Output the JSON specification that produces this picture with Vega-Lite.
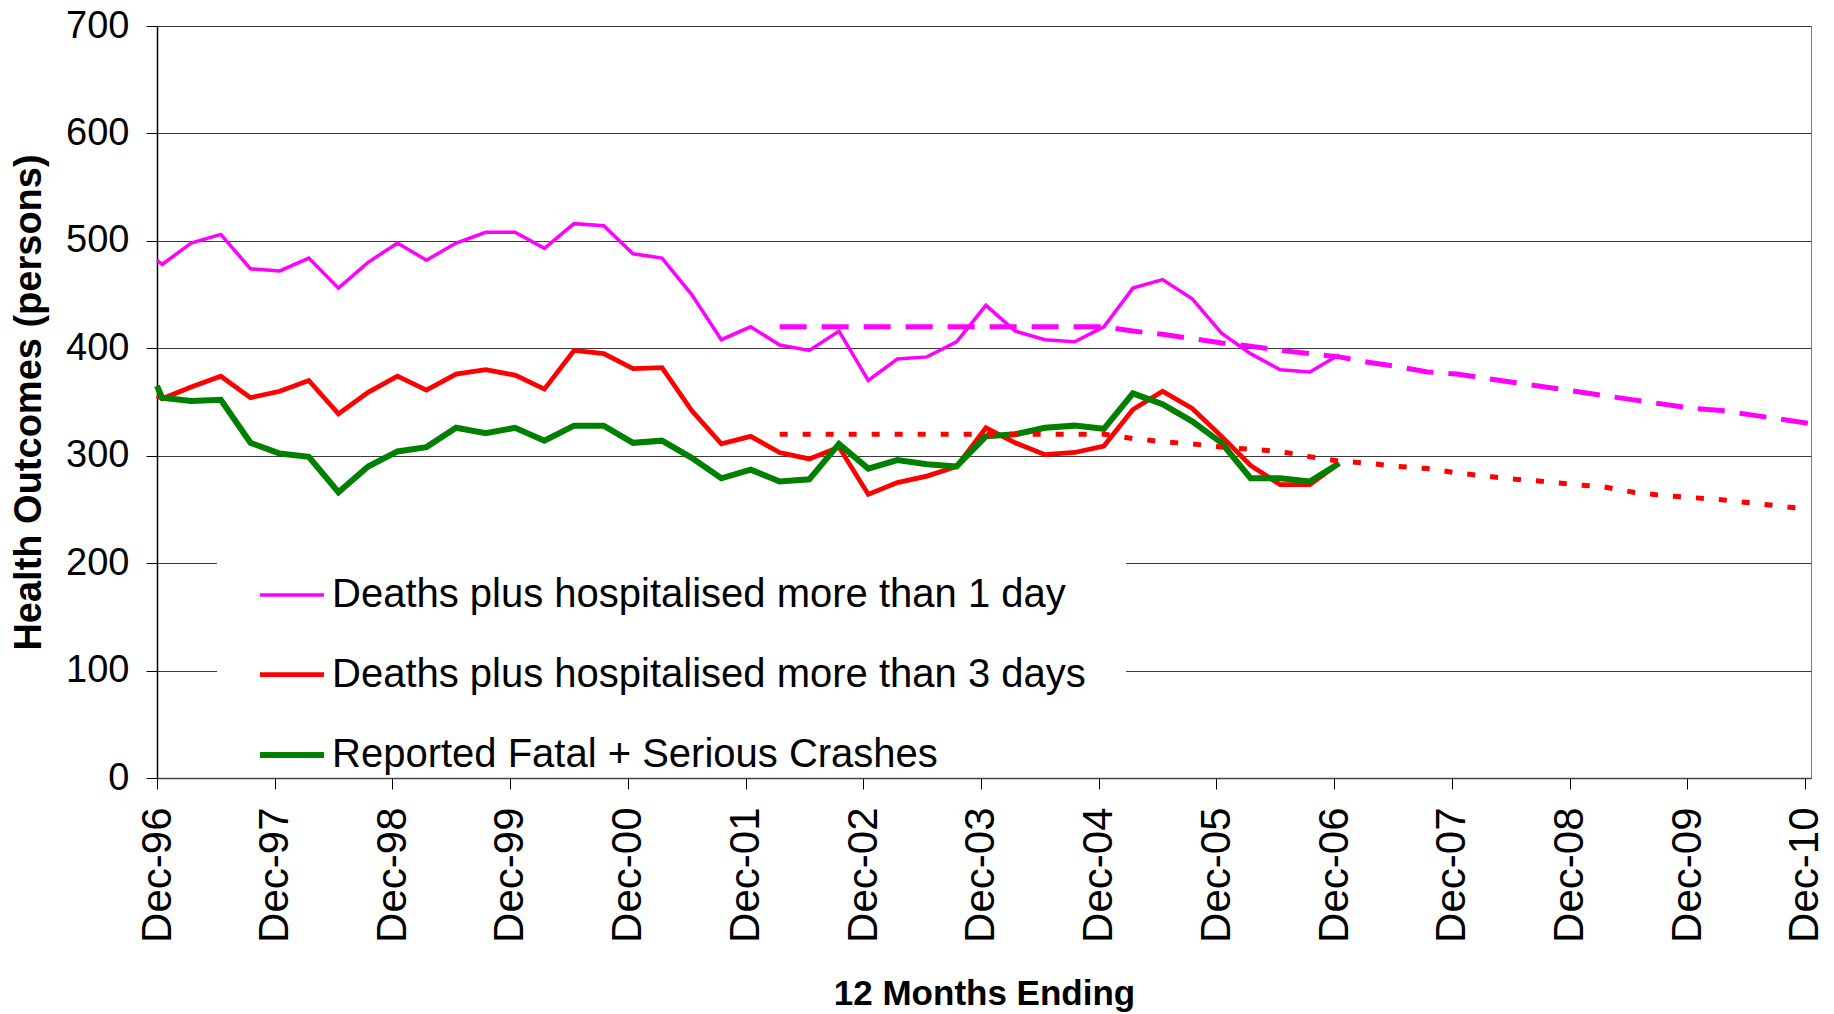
{
  "$schema": "https://vega.github.io/schema/vega-lite/v6.json",
  "autosize": {"type": "none"},
  "width": 1654,
  "height": 752,
  "padding": {"left": 157, "top": 26, "right": 23, "bottom": 236},
  "background": "white",
  "config": {
    "font": "Liberation Sans",
    "view": {"stroke": "#808080", "strokeWidth": 1},
    "axis": {"labelColor": "#000", "titleColor": "#000", "tickColor": "#000", "labelFont": "Liberation Sans", "titleFont": "Liberation Sans"}
  },
  "datasets": {
    "actual": [
      {"date": "1996-12-01", "series": "Deaths plus hospitalised more than 1 day", "value": 482},
      {"date": "1996-12-17", "series": "Deaths plus hospitalised more than 1 day", "value": 478},
      {"date": "1997-03-17", "series": "Deaths plus hospitalised more than 1 day", "value": 498},
      {"date": "1997-06-17", "series": "Deaths plus hospitalised more than 1 day", "value": 506},
      {"date": "1997-09-17", "series": "Deaths plus hospitalised more than 1 day", "value": 474},
      {"date": "1997-12-17", "series": "Deaths plus hospitalised more than 1 day", "value": 472},
      {"date": "1998-03-17", "series": "Deaths plus hospitalised more than 1 day", "value": 484},
      {"date": "1998-06-17", "series": "Deaths plus hospitalised more than 1 day", "value": 456},
      {"date": "1998-09-17", "series": "Deaths plus hospitalised more than 1 day", "value": 480},
      {"date": "1998-12-17", "series": "Deaths plus hospitalised more than 1 day", "value": 498},
      {"date": "1999-03-17", "series": "Deaths plus hospitalised more than 1 day", "value": 482},
      {"date": "1999-06-17", "series": "Deaths plus hospitalised more than 1 day", "value": 498},
      {"date": "1999-09-17", "series": "Deaths plus hospitalised more than 1 day", "value": 508},
      {"date": "1999-12-17", "series": "Deaths plus hospitalised more than 1 day", "value": 508},
      {"date": "2000-03-17", "series": "Deaths plus hospitalised more than 1 day", "value": 493},
      {"date": "2000-06-17", "series": "Deaths plus hospitalised more than 1 day", "value": 516},
      {"date": "2000-09-17", "series": "Deaths plus hospitalised more than 1 day", "value": 514},
      {"date": "2000-12-17", "series": "Deaths plus hospitalised more than 1 day", "value": 488},
      {"date": "2001-03-17", "series": "Deaths plus hospitalised more than 1 day", "value": 484},
      {"date": "2001-06-17", "series": "Deaths plus hospitalised more than 1 day", "value": 450},
      {"date": "2001-09-17", "series": "Deaths plus hospitalised more than 1 day", "value": 408},
      {"date": "2001-12-17", "series": "Deaths plus hospitalised more than 1 day", "value": 420},
      {"date": "2002-03-17", "series": "Deaths plus hospitalised more than 1 day", "value": 403},
      {"date": "2002-06-17", "series": "Deaths plus hospitalised more than 1 day", "value": 398},
      {"date": "2002-09-17", "series": "Deaths plus hospitalised more than 1 day", "value": 416},
      {"date": "2002-12-17", "series": "Deaths plus hospitalised more than 1 day", "value": 370},
      {"date": "2003-03-17", "series": "Deaths plus hospitalised more than 1 day", "value": 390},
      {"date": "2003-06-17", "series": "Deaths plus hospitalised more than 1 day", "value": 392},
      {"date": "2003-09-17", "series": "Deaths plus hospitalised more than 1 day", "value": 406},
      {"date": "2003-12-17", "series": "Deaths plus hospitalised more than 1 day", "value": 440},
      {"date": "2004-03-17", "series": "Deaths plus hospitalised more than 1 day", "value": 416},
      {"date": "2004-06-17", "series": "Deaths plus hospitalised more than 1 day", "value": 408},
      {"date": "2004-09-17", "series": "Deaths plus hospitalised more than 1 day", "value": 406},
      {"date": "2004-12-17", "series": "Deaths plus hospitalised more than 1 day", "value": 420},
      {"date": "2005-03-17", "series": "Deaths plus hospitalised more than 1 day", "value": 456},
      {"date": "2005-06-17", "series": "Deaths plus hospitalised more than 1 day", "value": 464},
      {"date": "2005-09-17", "series": "Deaths plus hospitalised more than 1 day", "value": 446},
      {"date": "2005-12-17", "series": "Deaths plus hospitalised more than 1 day", "value": 414},
      {"date": "2006-03-17", "series": "Deaths plus hospitalised more than 1 day", "value": 395},
      {"date": "2006-06-17", "series": "Deaths plus hospitalised more than 1 day", "value": 380},
      {"date": "2006-09-17", "series": "Deaths plus hospitalised more than 1 day", "value": 378},
      {"date": "2006-12-17", "series": "Deaths plus hospitalised more than 1 day", "value": 394},
      {"date": "1996-12-01", "series": "Deaths plus hospitalised more than 3 days", "value": 356},
      {"date": "1996-12-17", "series": "Deaths plus hospitalised more than 3 days", "value": 353},
      {"date": "1997-03-17", "series": "Deaths plus hospitalised more than 3 days", "value": 364},
      {"date": "1997-06-17", "series": "Deaths plus hospitalised more than 3 days", "value": 374},
      {"date": "1997-09-17", "series": "Deaths plus hospitalised more than 3 days", "value": 354},
      {"date": "1997-12-17", "series": "Deaths plus hospitalised more than 3 days", "value": 360},
      {"date": "1998-03-17", "series": "Deaths plus hospitalised more than 3 days", "value": 370},
      {"date": "1998-06-17", "series": "Deaths plus hospitalised more than 3 days", "value": 339},
      {"date": "1998-09-17", "series": "Deaths plus hospitalised more than 3 days", "value": 359},
      {"date": "1998-12-17", "series": "Deaths plus hospitalised more than 3 days", "value": 374},
      {"date": "1999-03-17", "series": "Deaths plus hospitalised more than 3 days", "value": 361},
      {"date": "1999-06-17", "series": "Deaths plus hospitalised more than 3 days", "value": 376},
      {"date": "1999-09-17", "series": "Deaths plus hospitalised more than 3 days", "value": 380},
      {"date": "1999-12-17", "series": "Deaths plus hospitalised more than 3 days", "value": 375},
      {"date": "2000-03-17", "series": "Deaths plus hospitalised more than 3 days", "value": 362},
      {"date": "2000-06-17", "series": "Deaths plus hospitalised more than 3 days", "value": 398},
      {"date": "2000-09-17", "series": "Deaths plus hospitalised more than 3 days", "value": 395},
      {"date": "2000-12-17", "series": "Deaths plus hospitalised more than 3 days", "value": 381},
      {"date": "2001-03-17", "series": "Deaths plus hospitalised more than 3 days", "value": 382},
      {"date": "2001-06-17", "series": "Deaths plus hospitalised more than 3 days", "value": 342},
      {"date": "2001-09-17", "series": "Deaths plus hospitalised more than 3 days", "value": 311},
      {"date": "2001-12-17", "series": "Deaths plus hospitalised more than 3 days", "value": 318},
      {"date": "2002-03-17", "series": "Deaths plus hospitalised more than 3 days", "value": 303},
      {"date": "2002-06-17", "series": "Deaths plus hospitalised more than 3 days", "value": 297},
      {"date": "2002-09-17", "series": "Deaths plus hospitalised more than 3 days", "value": 308},
      {"date": "2002-12-17", "series": "Deaths plus hospitalised more than 3 days", "value": 264},
      {"date": "2003-03-17", "series": "Deaths plus hospitalised more than 3 days", "value": 275},
      {"date": "2003-06-17", "series": "Deaths plus hospitalised more than 3 days", "value": 281},
      {"date": "2003-09-17", "series": "Deaths plus hospitalised more than 3 days", "value": 290},
      {"date": "2003-12-17", "series": "Deaths plus hospitalised more than 3 days", "value": 326},
      {"date": "2004-03-17", "series": "Deaths plus hospitalised more than 3 days", "value": 312},
      {"date": "2004-06-17", "series": "Deaths plus hospitalised more than 3 days", "value": 301},
      {"date": "2004-09-17", "series": "Deaths plus hospitalised more than 3 days", "value": 303},
      {"date": "2004-12-17", "series": "Deaths plus hospitalised more than 3 days", "value": 309},
      {"date": "2005-03-17", "series": "Deaths plus hospitalised more than 3 days", "value": 343},
      {"date": "2005-06-17", "series": "Deaths plus hospitalised more than 3 days", "value": 360},
      {"date": "2005-09-17", "series": "Deaths plus hospitalised more than 3 days", "value": 344},
      {"date": "2005-12-17", "series": "Deaths plus hospitalised more than 3 days", "value": 318},
      {"date": "2006-03-17", "series": "Deaths plus hospitalised more than 3 days", "value": 291},
      {"date": "2006-06-17", "series": "Deaths plus hospitalised more than 3 days", "value": 273},
      {"date": "2006-09-17", "series": "Deaths plus hospitalised more than 3 days", "value": 273},
      {"date": "2006-12-17", "series": "Deaths plus hospitalised more than 3 days", "value": 293},
      {"date": "1996-12-01", "series": "Reported Fatal + Serious Crashes", "value": 365},
      {"date": "1996-12-17", "series": "Reported Fatal + Serious Crashes", "value": 354},
      {"date": "1997-03-17", "series": "Reported Fatal + Serious Crashes", "value": 351},
      {"date": "1997-06-17", "series": "Reported Fatal + Serious Crashes", "value": 352},
      {"date": "1997-09-17", "series": "Reported Fatal + Serious Crashes", "value": 312},
      {"date": "1997-12-17", "series": "Reported Fatal + Serious Crashes", "value": 302},
      {"date": "1998-03-17", "series": "Reported Fatal + Serious Crashes", "value": 299},
      {"date": "1998-06-17", "series": "Reported Fatal + Serious Crashes", "value": 266},
      {"date": "1998-09-17", "series": "Reported Fatal + Serious Crashes", "value": 290},
      {"date": "1998-12-17", "series": "Reported Fatal + Serious Crashes", "value": 304},
      {"date": "1999-03-17", "series": "Reported Fatal + Serious Crashes", "value": 308},
      {"date": "1999-06-17", "series": "Reported Fatal + Serious Crashes", "value": 326},
      {"date": "1999-09-17", "series": "Reported Fatal + Serious Crashes", "value": 321},
      {"date": "1999-12-17", "series": "Reported Fatal + Serious Crashes", "value": 326},
      {"date": "2000-03-17", "series": "Reported Fatal + Serious Crashes", "value": 314},
      {"date": "2000-06-17", "series": "Reported Fatal + Serious Crashes", "value": 328},
      {"date": "2000-09-17", "series": "Reported Fatal + Serious Crashes", "value": 328},
      {"date": "2000-12-17", "series": "Reported Fatal + Serious Crashes", "value": 312},
      {"date": "2001-03-17", "series": "Reported Fatal + Serious Crashes", "value": 314},
      {"date": "2001-06-17", "series": "Reported Fatal + Serious Crashes", "value": 298},
      {"date": "2001-09-17", "series": "Reported Fatal + Serious Crashes", "value": 279},
      {"date": "2001-12-17", "series": "Reported Fatal + Serious Crashes", "value": 287},
      {"date": "2002-03-17", "series": "Reported Fatal + Serious Crashes", "value": 276},
      {"date": "2002-06-17", "series": "Reported Fatal + Serious Crashes", "value": 278},
      {"date": "2002-09-17", "series": "Reported Fatal + Serious Crashes", "value": 311},
      {"date": "2002-12-17", "series": "Reported Fatal + Serious Crashes", "value": 288},
      {"date": "2003-03-17", "series": "Reported Fatal + Serious Crashes", "value": 296},
      {"date": "2003-06-17", "series": "Reported Fatal + Serious Crashes", "value": 292},
      {"date": "2003-09-17", "series": "Reported Fatal + Serious Crashes", "value": 290},
      {"date": "2003-12-17", "series": "Reported Fatal + Serious Crashes", "value": 318},
      {"date": "2004-03-17", "series": "Reported Fatal + Serious Crashes", "value": 320},
      {"date": "2004-06-17", "series": "Reported Fatal + Serious Crashes", "value": 326},
      {"date": "2004-09-17", "series": "Reported Fatal + Serious Crashes", "value": 328},
      {"date": "2004-12-17", "series": "Reported Fatal + Serious Crashes", "value": 325},
      {"date": "2005-03-17", "series": "Reported Fatal + Serious Crashes", "value": 358},
      {"date": "2005-06-17", "series": "Reported Fatal + Serious Crashes", "value": 348},
      {"date": "2005-09-17", "series": "Reported Fatal + Serious Crashes", "value": 332},
      {"date": "2005-12-17", "series": "Reported Fatal + Serious Crashes", "value": 312},
      {"date": "2006-03-17", "series": "Reported Fatal + Serious Crashes", "value": 279},
      {"date": "2006-06-17", "series": "Reported Fatal + Serious Crashes", "value": 279},
      {"date": "2006-09-17", "series": "Reported Fatal + Serious Crashes", "value": 276},
      {"date": "2006-12-17", "series": "Reported Fatal + Serious Crashes", "value": 293}
    ],
    "proj1": [
      {"date": "2002-03-17", "value": 420},
      {"date": "2002-06-17", "value": 420},
      {"date": "2002-09-17", "value": 420},
      {"date": "2002-12-17", "value": 420},
      {"date": "2003-03-17", "value": 420},
      {"date": "2003-06-17", "value": 420},
      {"date": "2003-09-17", "value": 420},
      {"date": "2003-12-17", "value": 420},
      {"date": "2004-03-17", "value": 420},
      {"date": "2004-06-17", "value": 420},
      {"date": "2004-09-17", "value": 420},
      {"date": "2004-12-17", "value": 420},
      {"date": "2005-03-17", "value": 416},
      {"date": "2005-06-17", "value": 413},
      {"date": "2005-09-17", "value": 409},
      {"date": "2005-12-17", "value": 405},
      {"date": "2006-03-17", "value": 402},
      {"date": "2006-06-17", "value": 398},
      {"date": "2006-09-17", "value": 395},
      {"date": "2006-12-17", "value": 392},
      {"date": "2007-03-17", "value": 387},
      {"date": "2007-06-17", "value": 383},
      {"date": "2007-09-17", "value": 378},
      {"date": "2007-12-17", "value": 376},
      {"date": "2008-03-17", "value": 372},
      {"date": "2008-06-17", "value": 368},
      {"date": "2008-09-17", "value": 364},
      {"date": "2008-12-17", "value": 360},
      {"date": "2009-03-17", "value": 356},
      {"date": "2009-06-17", "value": 352},
      {"date": "2009-09-17", "value": 348},
      {"date": "2009-12-17", "value": 344},
      {"date": "2010-03-17", "value": 342},
      {"date": "2010-06-17", "value": 338},
      {"date": "2010-09-17", "value": 334},
      {"date": "2010-12-17", "value": 330}
    ],
    "proj3": [
      {"date": "2002-03-17", "value": 320},
      {"date": "2002-06-17", "value": 320},
      {"date": "2002-09-17", "value": 320},
      {"date": "2002-12-17", "value": 320},
      {"date": "2003-03-17", "value": 320},
      {"date": "2003-06-17", "value": 320},
      {"date": "2003-09-17", "value": 320},
      {"date": "2003-12-17", "value": 320},
      {"date": "2004-03-17", "value": 320},
      {"date": "2004-06-17", "value": 320},
      {"date": "2004-09-17", "value": 320},
      {"date": "2004-12-17", "value": 320},
      {"date": "2005-03-17", "value": 316},
      {"date": "2005-06-17", "value": 313},
      {"date": "2005-09-17", "value": 311},
      {"date": "2005-12-17", "value": 308},
      {"date": "2006-03-17", "value": 306},
      {"date": "2006-06-17", "value": 304},
      {"date": "2006-09-17", "value": 299},
      {"date": "2006-12-17", "value": 295},
      {"date": "2007-03-17", "value": 293},
      {"date": "2007-06-17", "value": 290},
      {"date": "2007-09-17", "value": 288},
      {"date": "2007-12-17", "value": 284},
      {"date": "2008-03-17", "value": 281},
      {"date": "2008-06-17", "value": 278},
      {"date": "2008-09-17", "value": 276},
      {"date": "2008-12-17", "value": 273},
      {"date": "2009-03-17", "value": 271},
      {"date": "2009-06-17", "value": 266},
      {"date": "2009-09-17", "value": 263},
      {"date": "2009-12-17", "value": 261},
      {"date": "2010-03-17", "value": 259},
      {"date": "2010-06-17", "value": 256},
      {"date": "2010-09-17", "value": 253},
      {"date": "2010-12-17", "value": 250}
    ]
  },
  "encoding": {
    "x": {
      "field": "date",
      "type": "temporal",
      "scale": {
        "type": "utc",
        "domain": [
          {"year": 1996, "month": 12, "date": 1, "utc": true},
          {"year": 2010, "month": 12, "date": 20, "utc": true}
        ]
      },
      "axis": {
        "values": [
          {"year": 1996, "month": 12, "date": 1, "utc": true},
          {"year": 1997, "month": 12, "date": 1, "utc": true},
          {"year": 1998, "month": 12, "date": 1, "utc": true},
          {"year": 1999, "month": 12, "date": 1, "utc": true},
          {"year": 2000, "month": 12, "date": 1, "utc": true},
          {"year": 2001, "month": 12, "date": 1, "utc": true},
          {"year": 2002, "month": 12, "date": 1, "utc": true},
          {"year": 2003, "month": 12, "date": 1, "utc": true},
          {"year": 2004, "month": 12, "date": 1, "utc": true},
          {"year": 2005, "month": 12, "date": 1, "utc": true},
          {"year": 2006, "month": 12, "date": 1, "utc": true},
          {"year": 2007, "month": 12, "date": 1, "utc": true},
          {"year": 2008, "month": 12, "date": 1, "utc": true},
          {"year": 2009, "month": 12, "date": 1, "utc": true},
          {"year": 2010, "month": 12, "date": 1, "utc": true}
        ],
        "format": "%b-%y",
        "labelAngle": 270,
        "labelAlign": "right",
        "labelBaseline": "middle",
        "labelFontSize": 42,
        "labelPadding": 18,
        "labelOverlap": false,
        "labelFlush": false,
        "tickSize": 11,
        "tickWidth": 1,
        "domainColor": "#444",
        "domainWidth": 1.5,
        "grid": false,
        "zindex": 1,
        "title": "12 Months Ending",
        "titleFontSize": 35,
        "titleFontWeight": "bold",
        "titlePadding": 34
      }
    },
    "y": {
      "field": "value",
      "type": "quantitative",
      "scale": {"domain": [0, 700], "nice": false, "zero": true},
      "axis": {
        "values": [0, 100, 200, 300, 400, 500, 600, 700],
        "labelFontSize": 38,
        "labelPadding": 17,
        "tickSize": 11,
        "tickWidth": 1,
        "domainColor": "#000",
        "domainWidth": 1.5,
        "grid": true,
        "gridColor": "#3a3a3a",
        "gridWidth": 1,
        "title": "Health Outcomes (persons)",
        "titleFontSize": 38,
        "titleFontWeight": "bold",
        "titlePadding": 17
      }
    }
  },
  "layer": [
    {
      "data": {"name": "actual"},
      "mark": {"type": "line"},
      "encoding": {
        "color": {
          "field": "series",
          "type": "nominal",
          "scale": {
            "domain": ["Deaths plus hospitalised more than 1 day", "Deaths plus hospitalised more than 3 days", "Reported Fatal + Serious Crashes"],
            "range": ["#FF00FF", "#FF0000", "#008000"]
          },
          "legend": {
            "orient": "none",
            "legendX": 60,
            "legendY": 495,
            "title": null,
            "symbolType": "stroke",
            "symbolSize": 4096,
            "labelFontSize": 40,
            "labelOffset": 5,
            "labelLimit": 1200,
            "labelColor": "#000",
            "rowPadding": 25,
            "padding": 40,
            "fillColor": "white",
            "strokeColor": null
          }
        },
        "strokeWidth": {
          "field": "series",
          "type": "nominal",
          "scale": {
            "domain": ["Deaths plus hospitalised more than 1 day", "Deaths plus hospitalised more than 3 days", "Reported Fatal + Serious Crashes"],
            "range": [3.5, 6, 6]
          },
          "legend": {
            "orient": "none",
            "legendX": 60,
            "legendY": 495,
            "title": null,
            "symbolType": "stroke",
            "symbolSize": 4096,
            "labelFontSize": 40,
            "labelOffset": 5,
            "labelLimit": 1200,
            "labelColor": "#000",
            "rowPadding": 25,
            "padding": 40,
            "fillColor": "white",
            "strokeColor": null
          }
        }
      }
    },
    {
      "data": {"name": "proj1"},
      "mark": {"type": "line", "color": "#FF00FF", "strokeWidth": 5, "strokeDash": [27, 15]},
      "encoding": {}
    },
    {
      "data": {"name": "proj3"},
      "mark": {"type": "line", "color": "#FF0000", "strokeWidth": 5, "strokeDash": [8, 15]},
      "encoding": {}
    }
  ]
}
